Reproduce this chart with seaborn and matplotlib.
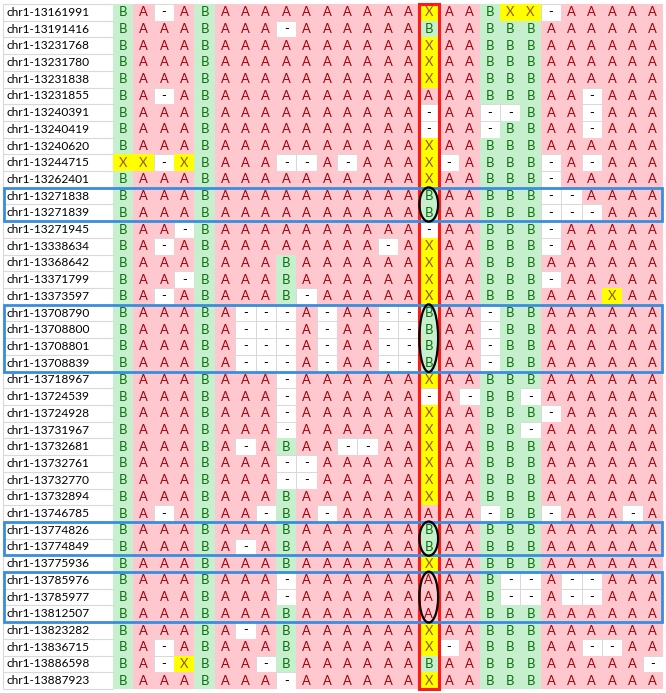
import numpy as np
import pandas as pd
import matplotlib
matplotlib.use("Agg")
import matplotlib.pyplot as plt
import seaborn as sns
from matplotlib.colors import ListedColormap
from matplotlib.patches import Rectangle, Ellipse

# ---------------- data ----------------
markers = [
    "chr1-13161991", "chr1-13191416", "chr1-13231768", "chr1-13231780",
    "chr1-13231838", "chr1-13231855", "chr1-13240391", "chr1-13240419",
    "chr1-13240620", "chr1-13244715", "chr1-13262401", "chr1-13271838",
    "chr1-13271839", "chr1-13271945", "chr1-13338634", "chr1-13368642",
    "chr1-13371799", "chr1-13373597", "chr1-13708790", "chr1-13708800",
    "chr1-13708801", "chr1-13708839", "chr1-13718967", "chr1-13724539",
    "chr1-13724928", "chr1-13731967", "chr1-13732681", "chr1-13732761",
    "chr1-13732770", "chr1-13732894", "chr1-13746785", "chr1-13774826",
    "chr1-13774849", "chr1-13775936", "chr1-13785976", "chr1-13785977",
    "chr1-13812507", "chr1-13823282", "chr1-13836715", "chr1-13886598",
    "chr1-13887923",
]

genotypes = [
    "BA-ABAAAAAA" + "AAAAXAABXX-AAAAA",
    "BAAABAAA-AA" + "AAAABAABBBAAAAAA",
    "BAAABAAAAAA" + "AAAAXAABBBAAAAAA",
    "BAAABAAAAAA" + "AAAAXAABBBAAAAAA",
    "BAAABAAAAAA" + "AAAAXAABBBAAAAAA",
    "BA-ABAAAAAA" + "AAAAAAABBBAA-AAA",
    "BAAABAAAAAA" + "AAAA-AA--BAA-AAA",
    "BAAABAAAAAA" + "AAAA-AA-BBAA-AAA",
    "BAAABAAAAAA" + "AAAAXAABBBAAAAAA",
    "XX-XBAAA--A" + "-AAAX-ABBB-A-AAA",
    "BAAABAAAAAA" + "AAAAXAABBB-AAAAA",
    "BAAABAAAAAA" + "AAAABAABBB--AAAA",
    "BAAABAAAAAA" + "AAAABAABBB---AAA",
    "BAA-BAAAAAA" + "AAAA-AABBB-AAAAA",
    "BA-ABAAAAAA" + "AA-AXAABBB-AAAAA",
    "BAAABAAABAA" + "AAAAXAABBBAAAAAA",
    "BAA-BAAABAA" + "AAAAXAABBB-AAAAA",
    "BA-ABAAAB-A" + "AAAAXAABBBAAAXAA",
    "BAAABA---A-" + "AA--BAA-BBAAAAAA",
    "BAAABA---A-" + "AA--BAA-BBAAAAAA",
    "BAAABA---A-" + "AA--BAA-BBAAAAAA",
    "BAAABA---A-" + "AA--BAA-BBAAAAAA",
    "BAAABAAA-AA" + "AAAAXAABBBAAAAAA",
    "BAAABAAA-AA" + "AAAA-A-BB-AAAAAA",
    "BAAABAAA-AA" + "AAAAXAABBB-AAAAA",
    "BAAABAAA-AA" + "AAAAXAABB-AAAAAA",
    "BAAABA-ABAA" + "--AAXAABBBAAAAAA",
    "BAAABAAA--A" + "AAAAXAABBBAAAAAA",
    "BAAABAAA--A" + "AAAAXAABBBAAAAAA",
    "BAAABAAABAA" + "AAAAXAABBBAAAAAA",
    "BA-ABAA-BA-" + "AAAAAAA-BB-AAA-A",
    "BAAABAAABAA" + "AAAABAABBBAAAAAA",
    "BAAABA-ABAA" + "AAAABAABBBAAAAAA",
    "BAAABAAABAA" + "AAAAXAABBBAAAAAA",
    "BAAABAAA-AA" + "AAAAAAAB--A--AAA",
    "BAAABAAA-AA" + "AAAAAAAB--A--AAA",
    "BAAABAAABAA" + "AAAAAAABBBAAAAAA",
    "BAAABA-ABAA" + "AAAAXAABBBAAAAAA",
    "BA-ABAAABAA" + "AAAAX-ABBBAA--AA",
    "BA-XBAA-BAA" + "AAAABAABBBAAAAA-",
    "BAAABAAA-AA" + "AAAAXAABBBAAAAAA",
]

highlight_groups = [
    ["chr1-13271838", "chr1-13271839"],
    ["chr1-13708790", "chr1-13708800", "chr1-13708801", "chr1-13708839"],
    ["chr1-13774826", "chr1-13774849"],
    ["chr1-13785976", "chr1-13785977", "chr1-13812507"],
]
focus_sample = 15  # highlighted sample column (0-based)

# ---------------- styling ----------------
code_of = {"A": 0, "B": 1, "X": 2, "-": 3}
fill_colors = ["#FFC7CE", "#C6EFCE", "#FFFF00"]
text_colors = {"A": "#A5000C", "B": "#0B6E0B", "X": "#9C5700", "-": "#000000"}
grid_color = "#D9D9D9"

sns.set_style("white")
plt.rcParams["font.family"] = ["Lato", "DejaVu Sans"]

W, H = 666, 693
left_px, right_px, top_px, bottom_px = 113, 663, 4, 689
label_size = 8.6
cell_size = 9.4

fig = plt.figure(figsize=(W / 100, H / 100), dpi=100)
ax = fig.add_axes([left_px / W, 1 - bottom_px / H,
                   (right_px - left_px) / W, (bottom_px - top_px) / H])

codes = np.array([[code_of[c] for c in g] for g in genotypes])
letters = np.array([list(g) for g in genotypes])
n_rows, n_cols = codes.shape
df = pd.DataFrame(codes, index=markers)

# missing calls: white cells with light grid
sns.heatmap(df, mask=(codes != 3), cmap=ListedColormap(["white"]), vmin=0, vmax=3,
            annot=letters, fmt="", cbar=False, linewidths=0.7, linecolor=grid_color,
            ax=ax, annot_kws=dict(fontsize=cell_size))
# genotype calls: coloured cells
sns.heatmap(df, mask=(codes == 3), cmap=ListedColormap(fill_colors), vmin=-0.5, vmax=2.5,
            annot=letters, fmt="", cbar=False, linewidths=0,
            ax=ax, annot_kws=dict(fontsize=cell_size))

for t in ax.texts:
    t.set_color(text_colors.get(t.get_text(), "black"))

ax.set_xticks([])
ax.set_xlabel("")
ax.set_ylabel("")
ax.set_yticks(np.arange(n_rows) + 0.5)
ax.set_yticklabels(markers, rotation=0, ha="left", fontsize=label_size, color="black")
ax.tick_params(axis="y", length=0, pad=(left_px - 6) * 0.72)

# label column grid
col_w = (right_px - left_px) / n_cols
label_left = (3 - left_px) / col_w
ax.hlines(np.arange(n_rows + 1), label_left, 0, colors=grid_color, lw=0.8, clip_on=False)
ax.vlines([label_left], 0, n_rows, colors=grid_color, lw=0.8, clip_on=False)

# red focus column
ax.add_patch(Rectangle((focus_sample, 0), 1, n_rows, fill=False, ec="#FF1A1A",
                       lw=2.2, clip_on=False, zorder=5))

# blue boxes + black ellipses
for grp in highlight_groups:
    idx = [markers.index(m) for m in grp]
    r0, r1 = min(idx), max(idx) + 1
    ax.add_patch(Rectangle((label_left + 0.05, r0), n_cols - 0.05 - (label_left + 0.05), r1 - r0,
                           fill=False, ec="#3A8DDE", lw=2.0, clip_on=False, zorder=6))
    ax.add_patch(Ellipse((focus_sample + 0.5, (r0 + r1) / 2), width=0.92, height=(r1 - r0) + 0.05,
                         fill=False, ec="black", lw=1.6, clip_on=False, zorder=7))

fig.savefig("out.png", dpi=100)
